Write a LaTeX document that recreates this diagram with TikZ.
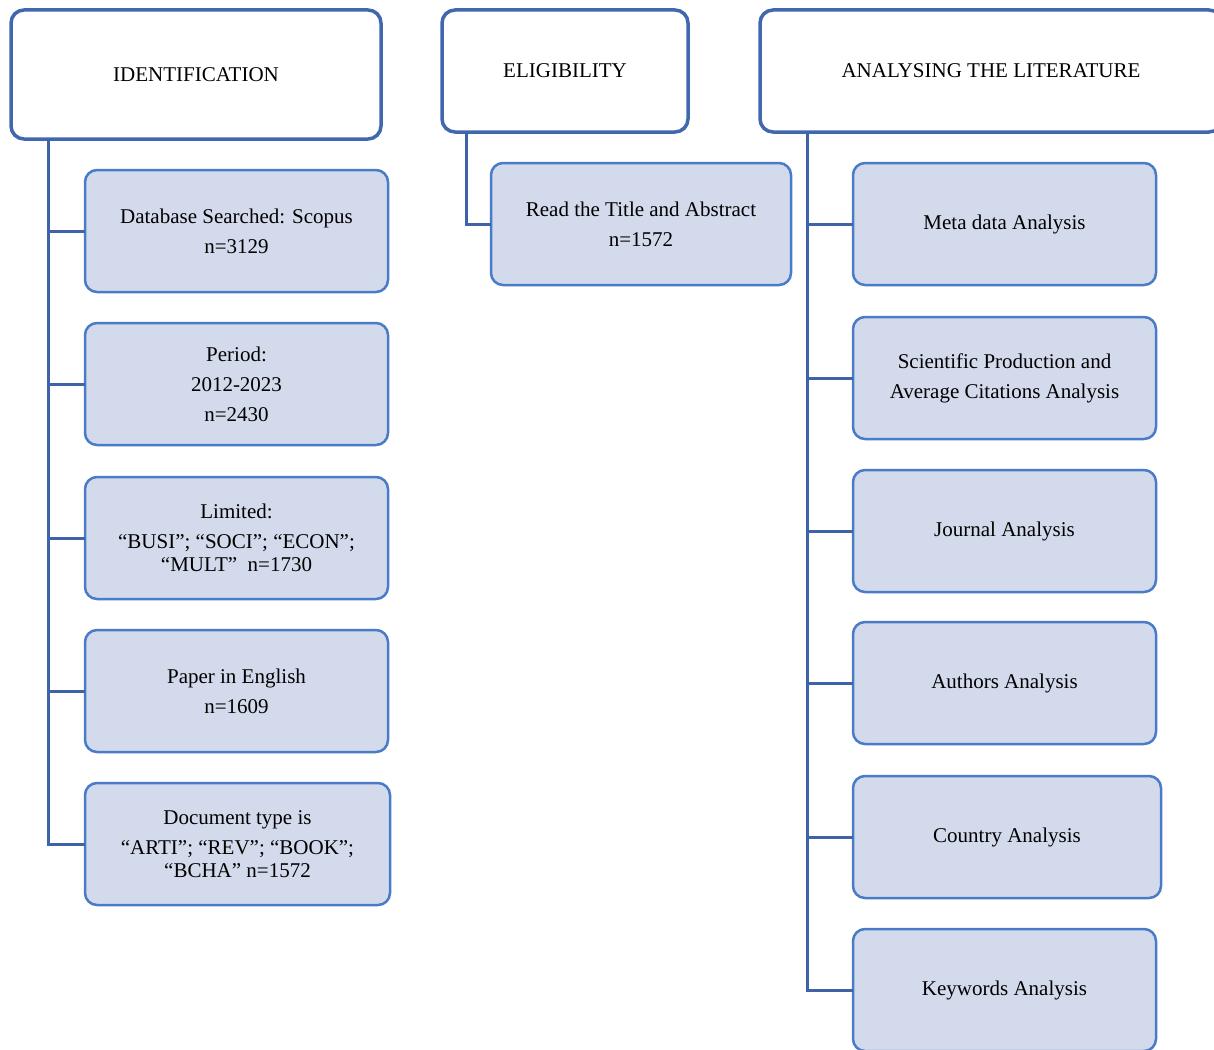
\documentclass[tikz,border=0pt]{standalone}
\usepackage{fontspec}
\setmainfont{Liberation Serif}
\definecolor{headblue}{HTML}{4168AF}
\definecolor{subblue}{HTML}{4A7BC8}
\definecolor{subfill}{HTML}{D3DAEC}
\definecolor{connblue}{HTML}{3F63A9}
\newcommand{\lowtext}[1]{\raisebox{-3pt}{#1}}
\begin{document}
\begin{tikzpicture}[x=1pt,y=-1pt,
  headbox/.style={draw=headblue,line width=3.5pt,fill=white,rounded corners=13pt,
    inner sep=0pt,outer sep=0pt,align=center,font=\fontsize{21}{30}\selectfont},
  subbox/.style={draw=subblue,line width=2.5pt,fill=subfill,rounded corners=12pt,
    inner sep=0pt,outer sep=0pt,align=center,minimum height=122pt,
    font=\fontsize{21}{30}\selectfont},
  conn/.style={draw=connblue,line width=3pt}]
\useasboundingbox (0,0) rectangle (1214,1049);
\clip (0,0) rectangle (1214,1049);
% headings
\node[headbox,minimum width=370pt,minimum height=129pt] (ident) at (196,74.5) {IDENTIFICATION};
\node[headbox,minimum width=246pt,minimum height=122pt] (elig) at (565,71) {ELIGIBILITY};
\node[headbox,minimum width=462pt,minimum height=122pt] (anal) at (991,71) {ANALYSING THE LITERATURE};
% identification column
\node[subbox,minimum width=303pt] (s1) at (236.5,231) {Database Searched: Scopus\\n=3129};
\node[subbox,minimum width=303pt] (s2) at (236.5,384) {Period:\\2012-2023\\n=2430};
\node[subbox,minimum width=303pt] (s3) at (236.5,538) {Limited:\\“BUSI”; “SOCI”; “ECON”;\\[-7pt]“MULT”\enspace n=1730};
\node[subbox,minimum width=303pt] (s4) at (236.5,691) {Paper in English\\n=1609};
\node[subbox,minimum width=305pt] (s5) at (237.5,844) {Document type is\\“ARTI”; “REV”; “BOOK”;\\[-7pt]“BCHA” n=1572};
% eligibility
\node[subbox,minimum width=300pt] (e1) at (641,224) {Read the Title and Abstract\\n=1572};
% analysing
\node[subbox,minimum width=303pt] (a1) at (1004.5,224) {\lowtext{Meta data Analysis}};
\node[subbox,minimum width=303pt] (a2) at (1004.5,378) {Scientific Production and\\Average Citations Analysis};
\node[subbox,minimum width=303pt] (a3) at (1004.5,531) {\lowtext{Journal Analysis}};
\node[subbox,minimum width=303pt] (a4) at (1004.5,683) {\lowtext{Authors Analysis}};
\node[subbox,minimum width=308pt] (a5) at (1007,837) {\lowtext{Country Analysis}};
\node[subbox,minimum width=303pt] (a6) at (1004.5,990) {\lowtext{Keywords Analysis}};
% trunks
\coordinate (lt) at ([xshift=-148pt]ident.south);
\coordinate (et) at ([xshift=-99pt]elig.south);
\coordinate (at) at ([xshift=-184pt]anal.south);
\draw[conn] (lt) |- (s5.west);
\foreach \n in {s1,s2,s3,s4} \draw[conn] (\n.west) -- (\n.west -| lt);
\draw[conn] (et) |- (e1.west);
\draw[conn] (at) |- (a6.west);
\foreach \n in {a1,a2,a3,a4,a5} \draw[conn] (\n.west) -- (\n.west -| at);
\end{tikzpicture}
\end{document}
